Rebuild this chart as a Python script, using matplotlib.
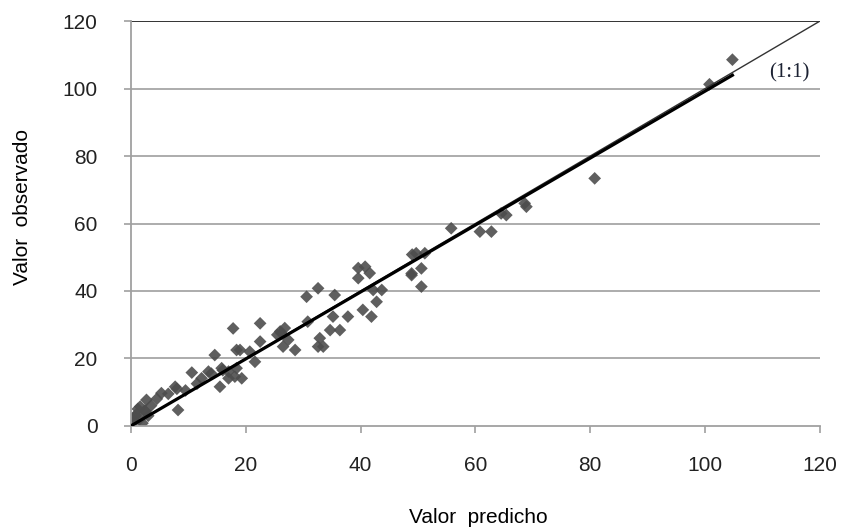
import matplotlib
matplotlib.use("Agg")
import matplotlib.pyplot as plt

predicho = [
    104.8, 100.8, 80.8, 68.6, 68.9, 65.4, 64.5, 60.8, 62.8, 55.8,
    49.7, 51.2, 48.9, 50.6, 50.6, 48.9, 49.0,
    39.6, 40.8, 39.6, 41.6, 40.4, 41.9, 42.8, 43.7, 42.2,
    35.5, 32.6, 30.6, 30.8, 32.9, 33.5, 32.6, 34.7, 35.2, 36.4, 37.8,
    26.8, 26.0, 27.4, 26.5, 28.6, 26.2, 25.5,
    22.5, 22.5, 19.0, 20.7, 21.6, 17.8, 18.4, 14.6, 15.5,
    13.5, 15.8, 17.0, 18.4, 18.1, 17.0, 19.3, 12.3, 14.0, 16.0,
    10.6, 11.5, 9.5, 8.0, 7.7, 8.2, 6.5, 5.3, 4.5, 3.5,
    2.7, 2.4, 1.6, 1.0, 0.7, 0.1, 0.5, 1.5, 2.0, 3.0, 2.5, 1.2, 0.3,
]
observado = [
    108.6, 101.3, 73.4, 66.0, 65.0, 62.5, 63.0, 57.6, 57.6, 58.6,
    51.2, 51.2, 45.2, 46.7, 41.3, 44.7, 50.8,
    46.8, 47.2, 43.8, 45.3, 34.4, 32.4, 36.8, 40.3, 40.3,
    38.8, 40.8, 38.3, 30.9, 26.0, 23.5, 23.5, 28.4, 32.4, 28.4, 32.4,
    29.0, 28.0, 25.5, 23.5, 22.5, 27.5, 27.0,
    30.4, 25.0, 22.5, 22.0, 19.0, 28.9, 22.5, 21.0, 11.6,
    16.1, 17.1, 16.1, 17.1, 14.6, 14.1, 14.1, 14.1, 15.5, 16.5,
    15.8, 12.5, 10.5, 11.0, 11.6, 4.7, 9.5, 9.7, 8.0, 6.0,
    7.7, 4.5, 5.7, 3.5, 2.8, 0.8, 1.2, 2.0, 0.8, 3.0, 4.2, 5.0, 2.0,
]

# reference 1:1 line and fitted line
linea_11_x = [0, 120]
linea_11_y = [0, 120]
ajuste_x = [0, 104.8]
ajuste_y = [0, 104.0]

ticks = [0, 20, 40, 60, 80, 100, 120]

plt.rcParams["font.family"] = ["Liberation Sans", "DejaVu Sans"]

fig = plt.figure(figsize=(8.45, 5.31), dpi=100)
ax = fig.add_axes([0.155, 0.198, 0.815, 0.762])

for t in ticks[1:-1]:
    ax.axhline(t, color="#a6a6a6", lw=1.3, zorder=0)
ax.axhline(120, color="#222222", lw=1.3, zorder=0)

ax.scatter(predicho, observado, marker="D", s=42, color="#4d4d4d",
           edgecolors="none", alpha=0.9, zorder=2)
ax.plot(linea_11_x, linea_11_y, color="#333333", lw=1.0, zorder=3)
ax.plot(ajuste_x, ajuste_y, color="black", lw=2.3, zorder=4)

ax.text(114.8, 104.6, "(1:1)", family=["Liberation Serif", "DejaVu Serif"],
        fontsize=15, color="#1c2233", ha="center", va="center")

ax.set_xlim(0, 120)
ax.set_ylim(0, 120)
ax.set_xticks(ticks)
ax.set_yticks(ticks)
ax.tick_params(axis="both", colors="#a0a0a0", length=5, width=1.2,
               labelcolor="#222222", labelsize=15)
ax.tick_params(axis="y", pad=19)
ax.tick_params(axis="x", pad=17)

for s in ["top", "right"]:
    ax.spines[s].set_visible(False)
for s in ["left", "bottom"]:
    ax.spines[s].set_color("#a0a0a0")
    ax.spines[s].set_linewidth(1.3)

ax.set_xlabel("Valor  predicho", fontsize=15)
ax.set_ylabel("Valor  observado", fontsize=15)
ax.xaxis.set_label_coords(0.504, -0.202)
ax.yaxis.set_label_coords(-0.144, 0.54)

fig.savefig("out.png", dpi=100)
